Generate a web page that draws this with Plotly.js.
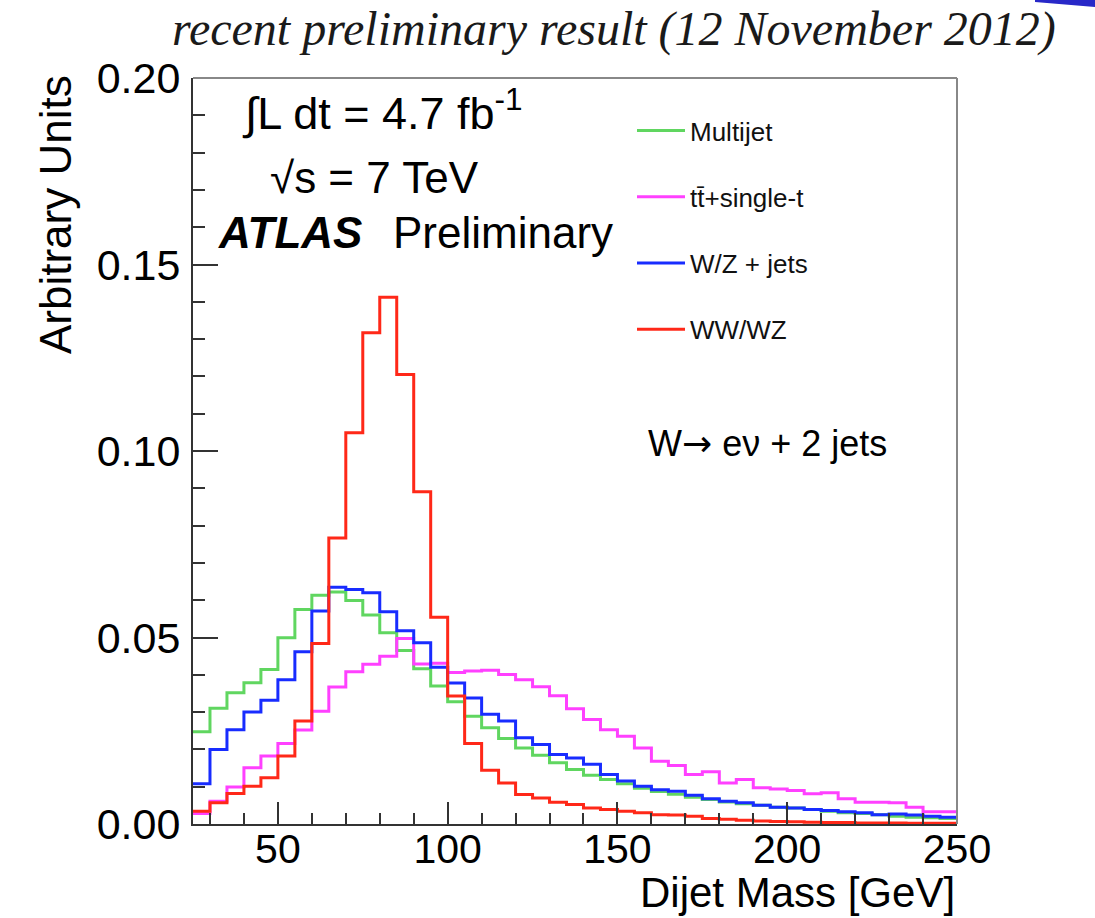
<!DOCTYPE html>
<html>
<head>
<meta charset="utf-8">
<script src="https://cdn.plot.ly/plotly-3.0.1.min.js"></script>
<style>
html,body{margin:0;padding:0;background:#fff;}
#chart{width:1095px;height:918px;}
</style>
</head>
<body>
<div id="chart"></div>
<script>
// Binning: 5 GeV bins from 25 to 250 GeV
const binLow = 25;
const binWidth = 5;

const seriesNames = ["Multijet", "tt\u0304+single-t", "W/Z + jets", "WW/WZ"];

const multijet = [0.0247,0.0310,0.0352,0.0379,0.0414,0.0499,0.0575,0.0613,0.0622,0.0599,
  0.0560,0.0513,0.0465,0.0416,0.0370,0.0328,0.0289,0.0258,0.0229,0.0204,
  0.0184,0.0164,0.0146,0.0131,0.0119,0.0108,0.0096,0.0087,0.0080,0.0072,
  0.0066,0.0059,0.0054,0.0050,0.0045,0.0043,0.0039,0.0034,0.0030,0.0028,
  0.0025,0.0021,0.0018,0.0017,0.0015];

const ttbar = [0.0028,0.0061,0.0099,0.0151,0.0182,0.0216,0.0252,0.0302,0.0367,0.0408,
  0.0428,0.0450,0.0497,0.0429,0.0431,0.0406,0.0410,0.0412,0.0401,0.0387,
  0.0368,0.0344,0.0309,0.0280,0.0253,0.0235,0.0204,0.0168,0.0157,0.0133,
  0.0140,0.0110,0.0119,0.0097,0.0094,0.0090,0.0081,0.0084,0.0068,0.0058,
  0.0058,0.0057,0.0045,0.0033,0.0033];

const wzjets = [0.0108,0.0200,0.0253,0.0300,0.0332,0.0387,0.0462,0.0571,0.0635,0.0629,
  0.0620,0.0569,0.0518,0.0486,0.0420,0.0378,0.0338,0.0294,0.0276,0.0231,
  0.0213,0.0186,0.0177,0.0160,0.0133,0.0115,0.0101,0.0092,0.0088,0.0077,
  0.0068,0.0061,0.0057,0.0050,0.0045,0.0043,0.0039,0.0036,0.0033,0.0030,
  0.0025,0.0027,0.0024,0.0021,0.0018];

const wwwz = [0.0034,0.0057,0.0082,0.0101,0.0124,0.0182,0.0276,0.0484,0.0767,0.1049,
  0.1317,0.1412,0.1205,0.0891,0.0554,0.0343,0.0216,0.0144,0.0110,0.0079,
  0.0070,0.0058,0.0052,0.0043,0.0039,0.0034,0.0030,0.0025,0.0024,0.0021,
  0.0015,0.0013,0.0010,0.0008,0.0007,0.0006,0.0005,0.0004,0.0004,0.0003,
  0.0003,0.0003,0.0002,0.0002,0.0002];

const xTickVals = [50, 100, 150, 200, 250];
const yTickVals = [0.00, 0.05, 0.10, 0.15, 0.20];

const colors = ["rgb(96,214,96)", "rgb(255,64,255)", "rgb(24,44,255)", "rgb(255,40,24)"];

function histTrace(vals, name, color) {
  const x = [], y = [];
  for (let i = 0; i < vals.length; i++) { x.push(binLow + i * binWidth); y.push(vals[i]); }
  x.push(binLow + vals.length * binWidth); y.push(vals[vals.length - 1]);
  return {
    type: "scatter", mode: "lines", x: x, y: y, name: name,
    legendgroup: name,
    line: {shape: "hv", color: color, width: 3},
    hoverinfo: "skip"
  };
}

const data = [
  histTrace(multijet, seriesNames[0], colors[0]),
  histTrace(ttbar, seriesNames[1], colors[1]),
  histTrace(wzjets, seriesNames[2], colors[2]),
  histTrace(wwwz, seriesNames[3], colors[3])
];

const L = 193, R = 957, T = 78, B = 824, W = 1095, H = 918;
const px = v => (v - L) / (R - L);
const py = v => (B - v) / (B - T);

const sansFont = "Liberation Sans, Arial, Helvetica, sans-serif";

const layout = {
  width: W, height: H,
  margin: {l: L, r: W - R, t: T, b: H - B, pad: 0},
  paper_bgcolor: "#fff", plot_bgcolor: "#fff",
  showlegend: true,
  legend: {
    x: px(632), y: py(107), xanchor: "left", yanchor: "top",
    bgcolor: "rgba(0,0,0,0)", borderwidth: 0,
    font: {family: sansFont, size: 26, color: "#111"},
    traceorder: "grouped", tracegroupgap: 29.5, itemwidth: 48
  },
  xaxis: {
    range: [binLow, binLow + multijet.length * binWidth],
    tickvals: xTickVals, ticktext: xTickVals.map(String),
    ticks: "inside", ticklen: 22, tickwidth: 2, tickcolor: "#333",
    minor: {dtick: 10, ticks: "inside", ticklen: 11, tickwidth: 2, tickcolor: "#333"},
    showgrid: false, zeroline: false,
    showline: true, linecolor: "#333", linewidth: 2,
    tickfont: {family: sansFont, size: 41, color: "#000"},
    ticklabelstandoff: -12,
    fixedrange: true
  },
  yaxis: {
    range: [0, 0.2],
    tickvals: yTickVals, ticktext: yTickVals.map(v => v.toFixed(2)),
    ticks: "inside", ticklen: 25, tickwidth: 2, tickcolor: "#333",
    minor: {dtick: 0.01, ticks: "inside", ticklen: 12, tickwidth: 2, tickcolor: "#333"},
    showgrid: false, zeroline: false,
    showline: true, linecolor: "#333", linewidth: 2,
    tickfont: {family: sansFont, size: 43, color: "#000"},
    ticklabelstandoff: 2,
    fixedrange: true
  },
  shapes: [
    {type: "line", xref: "paper", yref: "paper", x0: 0, x1: 1, y0: 1, y1: 1, line: {color: "#888", width: 2}},
    {type: "line", xref: "paper", yref: "paper", x0: 1, x1: 1, y0: 0, y1: 1, line: {color: "#888", width: 2}},
    {type: "path", xref: "paper", yref: "paper", layer: "above",
     path: "M" + px(1035) + "," + py(0) + " L" + px(1095) + "," + py(0) + " L" + px(1095) + "," + py(7) + " L" + px(1035) + "," + py(2) + " Z",
     fillcolor: "rgb(40,40,200)", line: {width: 0}}
  ],
  annotations: [
    {xref: "paper", yref: "paper", x: px(614), y: py(29), xanchor: "center", yanchor: "middle",
     text: "<i>recent preliminary result (12 November 2012)</i>", showarrow: false,
     font: {family: "Liberation Serif, DejaVu Serif, serif", size: 48, color: "#1a1a1a"}},
    {xref: "paper", yref: "paper", x: px(55), y: py(215), xanchor: "center", yanchor: "middle",
     text: "Arbitrary Units", textangle: -90, showarrow: false,
     font: {family: sansFont, size: 44, color: "#000"}},
    {xref: "paper", yref: "paper", x: 1, y: py(892), xanchor: "right", yanchor: "middle",
     text: "Dijet Mass [GeV]", showarrow: false,
     font: {family: sansFont, size: 42, color: "#000"}},
    {xref: "paper", yref: "paper", x: px(240), y: py(110), xanchor: "left", yanchor: "middle",
     text: "\u222BL dt = 4.7 fb<sup>-1</sup>", showarrow: false,
     font: {family: sansFont, size: 45, color: "#000"}},
    {xref: "paper", yref: "paper", x: px(268), y: py(177), xanchor: "left", yanchor: "middle",
     text: "\u221As = 7 TeV", showarrow: false,
     font: {family: sansFont, size: 44, color: "#000"}},
    {xref: "paper", yref: "paper", x: px(216), y: py(232), xanchor: "left", yanchor: "middle",
     text: "<b><i>ATLAS</i></b>", showarrow: false,
     font: {family: sansFont, size: 44, color: "#000"}},
    {xref: "paper", yref: "paper", x: px(391), y: py(232), xanchor: "left", yanchor: "middle",
     text: "Preliminary", showarrow: false,
     font: {family: sansFont, size: 44, color: "#000"}},
    {xref: "paper", yref: "paper", x: px(646), y: py(443), xanchor: "left", yanchor: "middle",
     text: "W<span style='font-family:DejaVu Sans'>\u2192</span> e\u03BD + 2 jets", showarrow: false,
     font: {family: sansFont, size: 36, color: "#000"}}
  ]
};

Plotly.newPlot("chart", data, layout, {displayModeBar: false, staticPlot: true});
</script>
</body>
</html>
